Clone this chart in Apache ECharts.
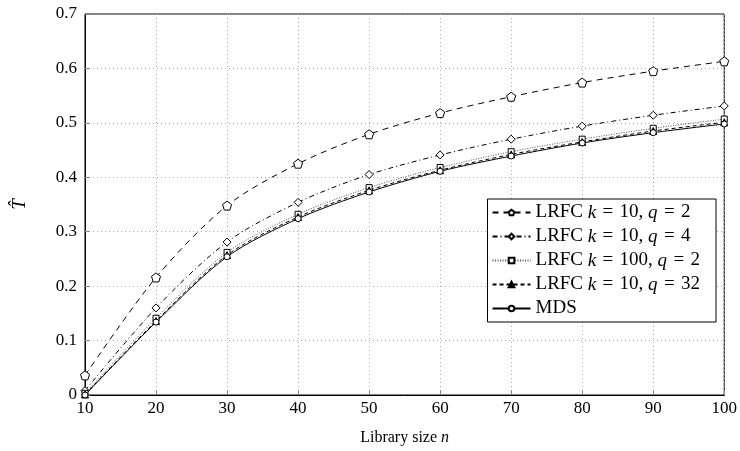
<!DOCTYPE html>
<html>
<head>
<meta charset="utf-8">
<script src="https://cdn.jsdelivr.net/npm/echarts@6/dist/echarts.min.js"></script>
<style>
  html, body { margin: 0; padding: 0; background: #fff; }
  #main { width: 740px; height: 451px; }
</style>
</head>
<body>
<div id="main"></div>
<script>
'use strict';

var librarySize = [10, 20, 30, 40, 50, 60, 70, 80, 90, 100];

var lrfcK10Q2   = [0.036, 0.216, 0.348, 0.425, 0.479, 0.518, 0.548, 0.574, 0.595, 0.613];
var lrfcK10Q4   = [0.008, 0.160, 0.281, 0.354, 0.405, 0.441, 0.470, 0.494, 0.514, 0.531];
var lrfcK100Q2  = [0.003, 0.141, 0.262, 0.332, 0.381, 0.418, 0.447, 0.470, 0.490, 0.507];
var lrfcK10Q32  = [0.001, 0.136, 0.257, 0.327, 0.376, 0.413, 0.442, 0.465, 0.485, 0.501];
var mds         = [0.000, 0.134, 0.254, 0.324, 0.373, 0.411, 0.439, 0.463, 0.482, 0.498];

var yTicks = [0, 0.1, 0.2, 0.3, 0.4, 0.5, 0.6, 0.7];

var font = 'Liberation Serif, DejaVu Serif, serif';
var pentagon = 'path://M0,-1 L0.951,-0.309 L0.588,0.809 L-0.588,0.809 L-0.951,-0.309 Z';

// legend labels (rich text so k and q are italic), slightly wider spaces round '='
var S = '\u2004';
var labels = {
	'LRFC k = 10, q = 2':  '{r|LRFC }{i|k}{r|' + S + '=' + S + '10, }{i|q}{r|' + S + '=' + S + '2}',
	'LRFC k = 10, q = 4':  '{r|LRFC }{i|k}{r|' + S + '=' + S + '10, }{i|q}{r|' + S + '=' + S + '4}',
	'LRFC k = 100, q = 2': '{r|LRFC }{i|k}{r|' + S + '=' + S + '100, }{i|q}{r|' + S + '=' + S + '2}',
	'LRFC k = 10, q = 32': '{r|LRFC }{i|k}{r|' + S + '=' + S + '10, }{i|q}{r|' + S + '=' + S + '32}',
	'MDS': '{r|MDS}'
};

function pairs(vals){
	return librarySize.map(function(x, i){ return [x, vals[i]]; });
}

function mk(name, vals, symbol, size, fill, dash, color){
	return {
		name: name,
		type: 'line',
		smooth: 0.3,
		data: pairs(vals),
		symbol: symbol,
		symbolSize: size,
		showAllSymbol: true,
		itemStyle: { color: fill, borderColor: '#000', borderWidth: 1 },
		lineStyle: { color: color || '#000', width: 1, type: dash },
		emphasis: { disabled: true }
	};
}

var chart = echarts.init(document.getElementById('main'));

var option = {
	animation: false,
	textStyle: { fontFamily: font },
	grid: {
		left: 85, right: 14, top: 14, bottom: 54,
		show: true, borderColor: '#000', borderWidth: 1
	},
	legend: {
		orient: 'vertical',
		right: 24, top: 199,
		backgroundColor: '#fff',
		borderColor: '#000', borderWidth: 1,
		padding: [4, 16, 4, 4],
		itemGap: 5,
		itemWidth: 38, itemHeight: 7,
		data: Object.keys(labels),
		formatter: function(n){ return labels[n]; },
		textStyle: {
			fontFamily: font, fontSize: 19, color: '#000',
			rich: {
				r: { fontFamily: font, fontSize: 19, color: '#000' },
				i: { fontFamily: font, fontSize: 19, color: '#000', fontStyle: 'italic' }
			}
		}
	},
	xAxis: {
		type: 'value',
		min: 10, max: 100, interval: 10,
		name: '{r|Library size }{i|n}',
		nameLocation: 'middle',
		nameGap: 35,
		nameTextStyle: {
			rich: {
				r: { fontFamily: font, fontSize: 16, color: '#000' },
				i: { fontFamily: font, fontSize: 16, color: '#000', fontStyle: 'italic' }
			}
		},
		axisLine: { lineStyle: { color: '#000', width: 1 } },
		axisTick: { inside: true, length: 5, lineStyle: { color: '#888' } },
		axisLabel: { color: '#000', fontSize: 17, fontFamily: font, margin: 5 },
		splitLine: { lineStyle: { color: '#aaa', type: [1, 3] } }
	},
	yAxis: {
		type: 'value',
		min: yTicks[0], max: yTicks[yTicks.length - 1], interval: 0.1,
		name: 'T\u0302',
		nameLocation: 'middle',
		nameRotate: 90,
		nameGap: 56,
		nameTextStyle: { fontFamily: font, fontSize: 19, fontStyle: 'italic', color: '#000' },
		axisLine: { show: true, lineStyle: { color: '#000', width: 1 } },
		axisTick: { show: true, inside: true, length: 5, lineStyle: { color: '#888' } },
		axisLabel: {
			color: '#000', fontSize: 17, fontFamily: font, margin: 8,
			formatter: function(v){ return v === 0 ? '0' : v.toFixed(1); }
		},
		splitLine: { lineStyle: { color: '#aaa', type: [1, 3] } }
	},
	series: [
		mk('LRFC k = 10, q = 2', lrfcK10Q2, pentagon, 9, '#fff', [6, 5]),
		mk('LRFC k = 10, q = 4', lrfcK10Q4, 'diamond', 8, '#fff', [5, 3, 1, 3]),
		mk('LRFC k = 100, q = 2', lrfcK100Q2, 'rect', 6, '#fff', [1, 1.5], '#555'),
		mk('LRFC k = 10, q = 32', lrfcK10Q32, 'triangle', 7, '#000', [4, 3]),
		mk('MDS', mds, 'circle', 6, '#fff', 'solid')
	]
};

chart.setOption(option);
</script>
</body>
</html>
